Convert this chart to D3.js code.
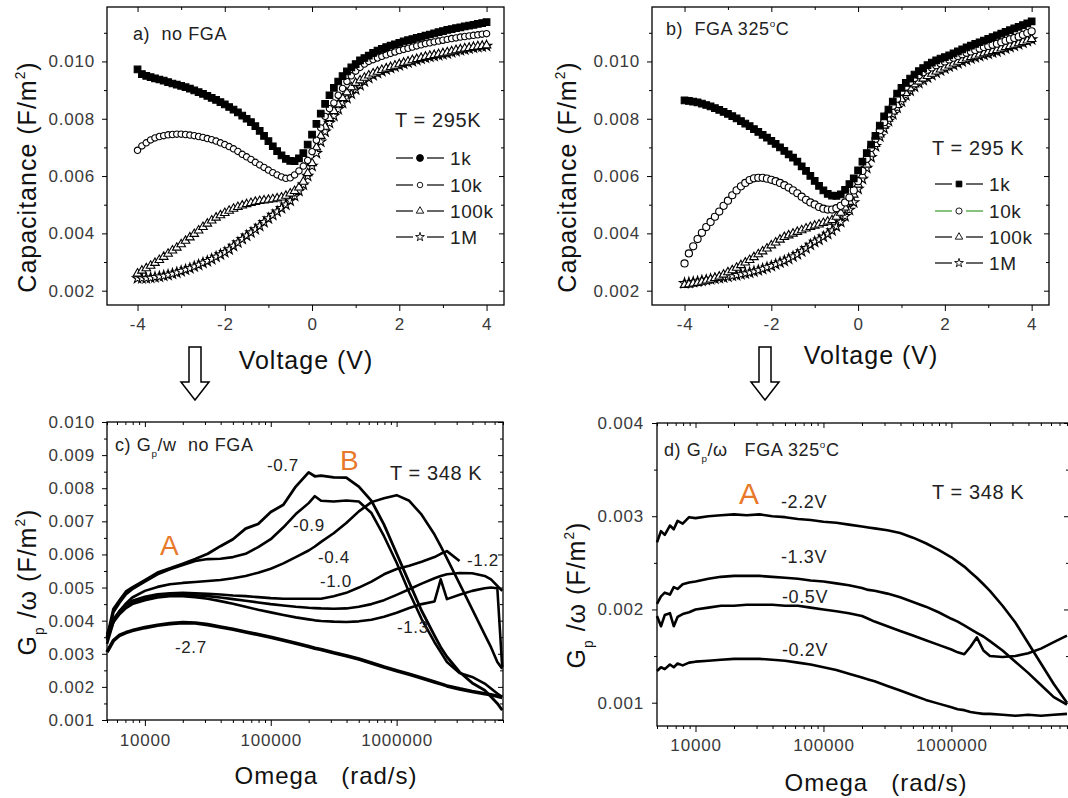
<!DOCTYPE html>
<html>
<head>
<meta charset="utf-8">
<script src="https://cdn.jsdelivr.net/npm/d3@7"></script>
<style>
body { margin: 0; background: #fff; }
svg { display: block; }
text { font-family: "Liberation Sans", Arial, sans-serif; }
.tick text { font-size: 17px; letter-spacing: 0.8px; fill: #3a3a3a; }
</style>
</head>
<body>
<svg id="fig" width="1068" height="798"></svg>
<script>
// ---- C-V data, capacitance in 1e-3 F/m^2 ----
var voltage = [-4.0,-3.9,-3.8,-3.7,-3.6,-3.5,-3.4,-3.3,-3.2,-3.1,
  -3.0,-2.9,-2.8,-2.7,-2.6,-2.5,-2.4,-2.3,-2.2,-2.1,
  -2.0,-1.9,-1.8,-1.7,-1.6,-1.5,-1.4,-1.3,-1.2,-1.1,
  -1.0,-0.9,-0.8,-0.7,-0.6,-0.5,-0.4,-0.3,-0.2,-0.1,
  0.0,0.1,0.2,0.3,0.4,0.5,0.6,0.7,0.8,0.9,
  1.0,1.1,1.2,1.3,1.4,1.5,1.6,1.7,1.8,1.9,
  2.0,2.1,2.2,2.3,2.4,2.5,2.6,2.7,2.8,2.9,
  3.0,3.1,3.2,3.3,3.4,3.5,3.6,3.7,3.8,3.9,
  4.0];

var capNoFga1k = [9.72,9.56,9.50,9.45,9.41,9.37,9.33,9.28,9.23,9.19,
  9.15,9.10,9.05,8.99,8.93,8.87,8.80,8.73,8.66,8.58,
  8.50,8.41,8.32,8.22,8.11,8.00,7.88,7.74,7.58,7.40,
  7.22,7.04,6.87,6.72,6.60,6.53,6.52,6.62,6.80,7.10,
  7.45,7.82,8.18,8.52,8.82,9.08,9.30,9.49,9.65,9.79,
  9.91,10.04,10.12,10.20,10.30,10.38,10.44,10.50,10.55,10.60,
  10.65,10.70,10.74,10.78,10.82,10.86,10.90,10.94,10.98,11.02,
  11.06,11.10,11.13,11.16,11.19,11.22,11.25,11.28,11.31,11.34,
  11.37];
var capNoFga10k = [6.90,7.05,7.16,7.26,7.33,7.38,7.41,7.44,7.45,7.46,
  7.46,7.45,7.43,7.41,7.38,7.35,7.31,7.27,7.22,7.16,
  7.10,7.03,6.95,6.86,6.76,6.67,6.58,6.48,6.39,6.30,
  6.21,6.12,6.04,5.97,5.92,5.94,6.04,6.18,6.35,6.55,
  6.85,7.25,7.68,8.08,8.35,8.55,8.82,9.06,9.30,9.50,
  9.66,9.79,9.91,10.00,10.06,10.12,10.18,10.23,10.28,10.33,
  10.38,10.42,10.46,10.50,10.54,10.58,10.62,10.65,10.68,10.71,
  10.74,10.77,10.80,10.82,10.85,10.87,10.89,10.91,10.93,10.95,
  10.97];
var capNoFga100k = [2.60,2.70,2.78,2.87,2.97,3.07,3.18,3.29,3.40,3.50,
  3.62,3.74,3.86,3.98,4.10,4.22,4.34,4.45,4.55,4.63,
  4.71,4.79,4.86,4.92,4.97,5.02,5.06,5.10,5.13,5.15,
  5.17,5.19,5.22,5.25,5.31,5.39,5.48,5.60,5.80,6.10,
  6.45,7.00,7.40,7.72,8.02,8.27,8.50,8.72,8.92,9.10,
  9.25,9.34,9.43,9.51,9.58,9.64,9.70,9.75,9.80,9.85,
  9.90,9.95,9.99,10.04,10.08,10.12,10.16,10.19,10.22,10.25,
  10.28,10.31,10.35,10.39,10.42,10.45,10.47,10.50,10.52,10.54,
  10.56];
var capNoFga1M = [2.43,2.43,2.43,2.45,2.47,2.49,2.52,2.55,2.59,2.63,
  2.68,2.73,2.78,2.84,2.90,2.97,3.03,3.10,3.18,3.26,
  3.34,3.44,3.56,3.68,3.80,3.92,4.03,4.14,4.26,4.39,
  4.52,4.64,4.76,4.88,5.00,5.14,5.30,5.48,5.70,6.00,
  6.35,6.80,7.20,7.55,7.85,8.10,8.33,8.55,8.72,8.87,
  9.02,9.17,9.30,9.42,9.52,9.60,9.66,9.72,9.77,9.82,
  9.87,9.92,9.96,10.01,10.05,10.09,10.13,10.16,10.19,10.22,
  10.25,10.28,10.32,10.36,10.39,10.42,10.45,10.48,10.50,10.52,
  10.54];

var capFga1k = [8.64,8.62,8.60,8.57,8.53,8.48,8.43,8.37,8.31,8.24,
  8.17,8.09,8.01,7.92,7.83,7.74,7.64,7.54,7.44,7.34,
  7.23,7.12,7.00,6.88,6.76,6.64,6.50,6.34,6.18,6.01,
  5.83,5.66,5.50,5.38,5.32,5.31,5.36,5.52,5.72,5.92,
  6.20,6.50,6.80,7.10,7.40,7.76,8.08,8.32,8.60,8.88,
  9.08,9.25,9.40,9.54,9.66,9.77,9.87,9.96,10.04,10.10,
  10.15,10.21,10.28,10.35,10.42,10.49,10.55,10.61,10.67,10.73,
  10.79,10.85,10.91,10.97,11.03,11.09,11.15,11.21,11.27,11.33,
  11.40];
var capFga10k = [2.95,3.30,3.55,3.80,4.02,4.22,4.40,4.58,4.76,4.96,
  5.14,5.33,5.50,5.64,5.76,5.86,5.92,5.94,5.94,5.91,
  5.87,5.82,5.76,5.68,5.60,5.50,5.40,5.28,5.17,5.08,
  5.01,4.92,4.86,4.83,4.83,4.88,4.96,5.08,5.25,5.50,
  5.82,6.18,6.60,6.98,7.30,7.60,7.88,8.18,8.45,8.70,
  8.95,9.12,9.28,9.42,9.52,9.62,9.71,9.79,9.87,9.94,
  10.00,10.07,10.13,10.19,10.25,10.30,10.35,10.40,10.45,10.50,
  10.54,10.58,10.62,10.67,10.72,10.77,10.82,10.87,10.93,10.99,
  11.05];
var capFga100k = [2.20,2.22,2.25,2.27,2.31,2.35,2.39,2.44,2.49,2.56,
  2.64,2.71,2.80,2.89,2.98,3.07,3.17,3.27,3.37,3.47,
  3.58,3.68,3.78,3.87,3.93,3.99,4.05,4.11,4.17,4.22,
  4.27,4.31,4.36,4.41,4.46,4.58,4.72,4.90,5.10,5.35,
  5.70,6.02,6.40,6.78,7.12,7.45,7.76,8.00,8.25,8.48,
  8.68,8.90,9.06,9.20,9.30,9.40,9.49,9.57,9.65,9.72,
  9.79,9.86,9.93,9.99,10.05,10.10,10.15,10.20,10.24,10.28,
  10.32,10.36,10.40,10.45,10.50,10.54,10.58,10.63,10.68,10.73,
  10.78];
var capFga1M = [2.26,2.28,2.30,2.32,2.35,2.37,2.40,2.42,2.44,2.46,
  2.49,2.52,2.54,2.57,2.60,2.63,2.67,2.71,2.76,2.81,
  2.86,2.92,2.98,3.04,3.11,3.19,3.27,3.37,3.48,3.60,
  3.70,3.78,3.88,3.98,4.10,4.24,4.40,4.60,4.82,5.08,
  5.55,5.90,6.28,6.66,7.04,7.38,7.66,7.92,8.16,8.38,
  8.60,8.82,8.98,9.12,9.25,9.35,9.44,9.53,9.61,9.68,
  9.75,9.82,9.88,9.94,10.00,10.05,10.10,10.15,10.19,10.23,
  10.27,10.31,10.35,10.40,10.45,10.50,10.55,10.60,10.65,10.71,
  10.77];

// ---- Gp/omega data, 1e-3 F/m^2, omega in rad/s ----
var omegaNoFga = [5000,5620,6310,7080,7940,10000,12600,15800,20000,25100,
  31600,39800,50100,63100,79400,100000,126000,158000,200000,224000,
  251000,316000,398000,501000,631000,794000,1000000,1260000,1580000,2000000,
  2240000,2510000,3160000,3980000,5010000,5620000,6310000,6900000];
var gpNoFgaM07 = [3.50,4.35,4.62,4.88,5.00,5.22,5.45,5.58,5.72,5.86,
  6.02,6.25,6.46,6.78,6.92,7.28,7.50,8.05,8.48,8.36,
  8.38,8.33,8.32,8.05,7.62,6.90,6.03,5.15,4.30,3.55,
  3.20,2.91,2.45,2.12,1.90,1.70,1.50,1.30];
var gpNoFgaM09 = [3.40,4.25,4.55,4.80,4.95,5.18,5.40,5.55,5.68,5.80,
  5.86,5.87,5.92,6.02,6.22,6.46,6.82,7.22,7.55,7.76,
  7.62,7.60,7.63,7.60,7.25,6.55,5.75,4.85,4.05,3.35,
  3.05,2.75,2.42,2.30,2.10,1.95,1.80,1.70];
var gpNoFgaM04 = [3.30,3.95,4.30,4.52,4.70,4.90,5.02,5.10,5.14,5.17,
  5.20,5.23,5.28,5.35,5.45,5.57,5.73,5.92,6.12,6.24,
  6.38,6.64,6.95,7.30,7.58,7.70,7.79,7.62,7.20,6.60,
  6.25,5.88,5.12,4.35,3.58,3.20,2.75,2.55];
var gpNoFgaM12 = [3.60,4.05,4.30,4.48,4.60,4.72,4.80,4.83,4.84,4.83,
  4.81,4.79,4.76,4.74,4.71,4.68,4.66,4.66,4.66,4.66,
  4.66,4.74,4.84,5.00,5.18,5.40,5.56,5.66,5.78,5.92,
  6.02,6.10,5.80,null,null,null,null,null];
var gpNoFgaM10 = [3.55,4.00,4.25,4.42,4.55,4.68,4.76,4.79,4.79,4.77,
  4.74,4.70,4.65,4.60,4.55,4.50,4.46,4.42,4.39,4.38,
  4.37,4.36,4.37,4.42,4.50,4.62,4.78,4.95,5.12,5.28,
  5.35,5.40,5.44,5.43,5.35,5.25,5.05,4.90];
var gpNoFgaM13 = [3.45,3.95,4.20,4.38,4.50,4.62,4.70,4.74,4.74,4.71,
  4.66,4.59,4.51,4.42,4.33,4.25,4.17,4.10,4.04,4.01,
  3.99,3.97,3.96,3.98,4.03,4.12,4.24,4.38,4.50,4.58,
  5.25,4.65,4.78,4.90,4.98,5.00,4.98,2.60];
var gpNoFgaM27 = [3.05,3.40,3.56,3.64,3.70,3.79,3.86,3.91,3.94,3.93,
  3.88,3.81,3.74,3.66,3.58,3.50,3.41,3.32,3.22,3.17,
  3.13,3.03,2.94,2.84,2.72,2.60,2.49,2.38,2.27,2.15,
  2.09,2.03,1.94,1.86,1.79,1.76,1.72,1.68];

var omegaFga = [5000,5370,5750,6310,6760,7240,7940,8910,10000,12600,
  15800,20000,25100,31600,39800,50100,63100,79400,100000,126000,
  158000,200000,224000,251000,316000,398000,501000,631000,794000,1000000,
  1120000,1260000,1410000,1580000,1780000,2000000,2510000,3160000,3980000,5010000,
  6310000,8000000];
var gpFgaM22 = [2.72,2.84,2.80,2.90,2.86,2.95,2.92,2.99,2.98,3.00,
  3.01,3.02,3.01,3.02,3.00,2.99,2.97,2.96,2.94,2.93,
  2.91,2.89,2.88,2.87,2.85,2.82,2.77,2.71,2.64,2.56,
  2.51,2.46,2.40,2.34,2.27,2.20,2.04,1.86,1.64,1.42,
  1.20,1.00];
var gpFgaM13 = [2.06,2.14,2.18,2.16,2.24,2.22,2.27,2.29,2.30,2.33,
  2.35,2.36,2.36,2.36,2.35,2.34,2.33,2.31,2.30,2.28,
  2.26,2.23,2.21,2.20,2.17,2.13,2.08,2.03,1.97,1.90,
  1.87,1.83,1.79,1.75,1.71,1.66,1.56,1.44,1.32,1.19,
  1.06,0.98];
var gpFgaM05 = [1.93,1.82,1.94,1.96,1.82,1.92,1.95,1.97,2.00,2.02,
  2.04,2.04,2.05,2.05,2.05,2.04,2.04,2.02,2.00,1.98,
  1.96,1.93,1.90,1.87,1.82,1.77,1.72,1.67,1.62,1.57,
  1.54,1.52,1.60,1.70,1.56,1.50,1.49,1.50,1.53,1.58,
  1.65,1.72];
var gpFgaM02 = [1.34,1.38,1.36,1.41,1.38,1.42,1.40,1.43,1.44,1.45,
  1.46,1.47,1.47,1.47,1.46,1.45,1.43,1.41,1.38,1.35,
  1.31,1.27,1.25,1.23,1.18,1.13,1.08,1.03,0.99,0.95,
  0.93,0.92,0.90,0.89,0.88,0.88,0.87,0.86,0.87,0.86,
  0.87,0.88];

// ---- ticks / labels ----
var voltTicks = [-4, -2, 0, 2, 4];
var voltMinor = [-3, -1, 1, 3];
var capTicks = [2, 4, 6, 8, 10];
var capMinor = [3, 5, 7, 9, 11];
var omegaTicks = [10000, 100000, 1000000];
var gpTicksNoFga = [1, 2, 3, 4, 5, 6, 7, 8, 9, 10];
var gpMinorNoFga = [1.5, 2.5, 3.5, 4.5, 5.5, 6.5, 7.5, 8.5, 9.5];
var gpTicksFga = [1, 2, 3, 4];
var gpMinorFga = [1.5, 2.5, 3.5];
var freqLabels = ['1k', '10k', '100k', '1M'];

var ORANGE = '#e8792a';
var svg = d3.select('#fig');
svg.append('rect').attr('width', 1068).attr('height', 798).attr('fill', '#fff');

function fmtMilli(d) { return (d / 1000).toFixed(3); }

function cleanAxis(sel) {
    sel.select('.domain').remove();
    sel.attr('font-family', null).attr('font-size', 17);
    sel.selectAll('line').attr('stroke', '#000').attr('stroke-width', 1);
}

function drawAxes(g, x, y, o) {
    var left = x.range()[0], right = x.range()[1];
    var bottom = y.range()[0], top = y.range()[1];

    g.append('g').attr('transform', 'translate(0,' + bottom + ')')
        .call(d3.axisBottom(x).tickValues(o.xMajor).tickSize(6).tickPadding(o.xPad).tickFormat(o.xFmt))
        .call(cleanAxis);
    g.append('g').attr('transform', 'translate(0,' + bottom + ')')
        .call(d3.axisBottom(x).tickValues(o.xMinor).tickSize(3).tickFormat(''))
        .call(cleanAxis);
    g.append('g').attr('transform', 'translate(0,' + top + ')')
        .call(d3.axisTop(x).tickValues(o.xMajor).tickSize(-5).tickFormat(''))
        .call(cleanAxis);
    g.append('g').attr('transform', 'translate(0,' + top + ')')
        .call(d3.axisTop(x).tickValues(o.xMinor).tickSize(-3).tickFormat(''))
        .call(cleanAxis);

    g.append('g').attr('transform', 'translate(' + left + ',0)')
        .call(d3.axisLeft(y).tickValues(o.yMajor).tickSize(5).tickPadding(o.yPad).tickFormat(fmtMilli))
        .call(cleanAxis);
    g.append('g').attr('transform', 'translate(' + left + ',0)')
        .call(d3.axisLeft(y).tickValues(o.yMinor).tickSize(3).tickFormat(''))
        .call(cleanAxis);
    g.append('g').attr('transform', 'translate(' + right + ',0)')
        .call(d3.axisRight(y).tickValues(o.yMajor).tickSize(-5).tickFormat(''))
        .call(cleanAxis);
    g.append('g').attr('transform', 'translate(' + right + ',0)')
        .call(d3.axisRight(y).tickValues(o.yMinor).tickSize(-3).tickFormat(''))
        .call(cleanAxis);

    g.append('rect')
        .attr('x', left).attr('y', top)
        .attr('width', right - left).attr('height', bottom - top)
        .attr('fill', 'none').attr('stroke', '#000').attr('stroke-width', 1.3);
}

// parts: array of strings or [text, 'sub'|'sup']
function richText(sel, parts, size) {
    var shift = 0;
    parts.forEach(function(p) {
        var txt = typeof p === 'string' ? p : p[0];
        var mode = typeof p === 'string' ? null : p[1];
        var target = mode === 'sub' ? size * 0.32 : (mode === 'sup' ? -size * 0.45 : 0);
        sel.append('tspan')
            .attr('dy', target - shift)
            .style('font-size', (mode ? size * 0.55 : size) + 'px')
            .text(txt);
        shift = target;
    });
}

function label(g, x, y, parts, size, opts) {
    opts = opts || {};
    var t = g.append('text')
        .attr('x', x).attr('y', y)
        .style('font-size', size + 'px')
        .style('fill', opts.fill || '#222')
        .style('letter-spacing', opts.ls || '0.6px')
        .attr('text-anchor', opts.anchor || 'start')
        .style('white-space', 'pre');
    richText(t, typeof parts === 'string' ? [parts] : parts, size);
    return t;
}

function yTitle(g, x, y, parts) {
    var t = g.append('text')
        .attr('transform', 'translate(' + x + ',' + y + ') rotate(-90)')
        .attr('text-anchor', 'middle')
        .style('font-size', '25px')
        .style('fill', '#111')
        .style('letter-spacing', '1px')
        .style('white-space', 'pre');
    richText(t, parts, 25);
}

function downArrow(g, cx) {
    var p = d3.path();
    p.moveTo(cx - 6, 347); p.lineTo(cx + 6, 347); p.lineTo(cx + 6, 382);
    p.lineTo(cx + 14, 382); p.lineTo(cx, 400); p.lineTo(cx - 14, 382);
    p.lineTo(cx - 6, 382); p.closePath();
    g.append('path').attr('d', p.toString()).attr('fill', '#fff')
        .attr('stroke', '#000').attr('stroke-width', 1.5);
}

var symFilledSquare = { type: d3.symbolSquare, size: 44, fill: '#000' };
var symOpenCircle = { type: d3.symbolCircle, size: 32, fill: '#fff' };
var symOpenTriangle = { type: d3.symbolTriangle, size: 32, fill: '#fff' };
var symOpenStar = { type: d3.symbolStar, size: 32, fill: '#fff' };

function capPanel(o) {
    var g = svg.append('g');
    var x = d3.scaleLinear().domain(o.xDom).range([o.left, o.right]);
    var y = d3.scaleLinear().domain([1.5, 11.9]).range([o.bottom, o.top]);

    // draw highest frequency first so 1k sits on top
    o.series.slice().reverse().forEach(function(s) {
        g.selectAll(null).data(voltage).enter().append('path')
            .attr('transform', function(d, i) { return 'translate(' + x(d) + ',' + y(s.values[i]) + ')'; })
            .attr('d', d3.symbol(s.sym.type, s.sym.size)())
            .attr('fill', s.sym.fill)
            .attr('stroke', '#000')
            .attr('stroke-width', 1.1);
    });

    drawAxes(g, x, y, {
        xMajor: voltTicks, xMinor: voltMinor, xPad: 7, xFmt: function(d) { return String(d); },
        yMajor: capTicks, yMinor: capMinor, yPad: 7
    });

    // legend
    o.series.forEach(function(s, i) {
        var cy = o.legend.rows[i];
        var lx = o.legend.x;
        var lineColor = s.legendLine || '#000';
        g.append('line').attr('x1', lx).attr('x2', lx + 17).attr('y1', cy).attr('y2', cy)
            .attr('stroke', lineColor).attr('stroke-width', 1.2);
        g.append('line').attr('x1', lx + 31).attr('x2', lx + 48).attr('y1', cy).attr('y2', cy)
            .attr('stroke', lineColor).attr('stroke-width', 1.2);
        var ls = s.legendSym || s.sym;
        g.append('path').attr('transform', 'translate(' + (lx + 24) + ',' + cy + ')')
            .attr('d', d3.symbol(ls.type, ls.size * 0.75)())
            .attr('fill', ls.fill).attr('stroke', '#000').attr('stroke-width', 0.9);
        label(g, lx + 54, cy + 6.5, freqLabels[i], 19);
    });
    return g;
}

// ---- panel a ----
var ga = capPanel({
    left: 107, right: 504, top: 7, bottom: 305, xDom: [-4.7, 4.4],
    series: [
        { values: capNoFga1k, sym: symFilledSquare, legendSym: { type: d3.symbolCircle, size: 50, fill: '#000' } },
        { values: capNoFga10k, sym: symOpenCircle },
        { values: capNoFga100k, sym: symOpenTriangle },
        { values: capNoFga1M, sym: symOpenStar }
    ],
    legend: { x: 396, rows: [158, 185, 211, 237] }
});
label(ga, 133, 40, 'a)  no FGA', 18);
label(ga, 395, 127, 'T = 295K', 20);
label(ga, 306, 369, 'Voltage (V)', 25, { anchor: 'middle', fill: '#111', ls: '1px' });
yTitle(ga, 36, 177, ['Capacitance (F/m', ['2', 'sup'], ')']);
downArrow(ga, 195);

// ---- panel b ----
var gb = capPanel({
    left: 652, right: 1049, top: 7, bottom: 305, xDom: [-4.75, 4.4],
    series: [
        { values: capFga1k, sym: symFilledSquare },
        { values: capFga10k, sym: { type: d3.symbolCircle, size: 40, fill: '#fff' }, legendLine: '#3a9a2a' },
        { values: capFga100k, sym: symOpenTriangle },
        { values: capFga1M, sym: symOpenStar }
    ],
    legend: { x: 935, rows: [184, 211, 237, 263] }
});
label(gb, 666, 35, ['b)  FGA 325', ['o', 'sup'], 'C'], 18);
label(gb, 932, 155, 'T = 295 K', 20);
label(gb, 871, 364, 'Voltage (V)', 25, { anchor: 'middle', fill: '#111', ls: '1px' });
yTitle(gb, 576, 177, ['Capacitance (F/m', ['2', 'sup'], ')']);
downArrow(gb, 765);

// ---- Gp/omega panels ----
function gpPanel(o) {
    var g = svg.append('g');
    var x = d3.scaleLog().domain(o.xDom).range([o.left, o.right]);
    var y = d3.scaleLinear().domain(o.yDom).range([o.bottom, o.top]);
    var line = d3.line()
        .defined(function(d) { return d[1] !== null; })
        .x(function(d) { return x(d[0]); })
        .y(function(d) { return y(d[1]); });

    o.series.forEach(function(s) {
        var pts = o.omega.map(function(w, i) { return [w, s.values[i]]; });
        g.append('path').datum(pts)
            .attr('d', line)
            .attr('fill', 'none')
            .attr('stroke', '#000')
            .attr('stroke-width', s.width || 2.6)
            .attr('stroke-linejoin', 'round');
    });

    var minor = x.ticks().filter(function(t) {
        return !o.xMajor.some(function(m) { return Math.abs(m - t) < 1e-6 * m; });
    });
    drawAxes(g, x, y, {
        xMajor: o.xMajor, xMinor: minor, xPad: o.xPad, xFmt: d3.format('d'),
        yMajor: o.yMajor, yMinor: o.yMinor, yPad: o.yPad
    });
    return g;
}

// ---- panel c ----
var gc = gpPanel({
    left: 107, right: 503, top: 422, bottom: 720,
    xDom: [5000, 7000000], yDom: [1, 10], omega: omegaNoFga,
    xMajor: omegaTicks, xPad: 8, yMajor: gpTicksNoFga, yMinor: gpMinorNoFga, yPad: 7,
    series: [
        { values: gpNoFgaM27, width: 3.6 },
        { values: gpNoFgaM13 },
        { values: gpNoFgaM10 },
        { values: gpNoFgaM12 },
        { values: gpNoFgaM04 },
        { values: gpNoFgaM09 },
        { values: gpNoFgaM07, width: 2.8 }
    ]
});
label(gc, 115, 451, ['c) G', ['p', 'sub'], '/w  no FGA'], 18);
label(gc, 267, 471, '-0.7', 17);
label(gc, 340, 470, 'B', 28, { fill: ORANGE, ls: '0px' });
label(gc, 390, 480, 'T = 348 K', 20);
label(gc, 293, 531, '-0.9', 17);
label(gc, 160, 555, 'A', 28, { fill: ORANGE, ls: '0px' });
label(gc, 318, 563, '-0.4', 17);
label(gc, 467, 566, '-1.2', 17);
label(gc, 320, 587, '-1.0', 17);
label(gc, 397, 633, '-1.3', 17);
label(gc, 175, 653, '-2.7', 17);
label(gc, 326, 784, 'Omega   (rad/s)', 24, { anchor: 'middle', fill: '#111', ls: '1px' });
yTitle(gc, 36, 582, ['G', ['p', 'sub'], ' /\u03c9 (F/m', ['2', 'sup'], ')']);

// ---- panel d ----
var gd = gpPanel({
    left: 657, right: 1069, top: 423, bottom: 726,
    xDom: [5000, 8300000], yDom: [0.75, 4.0], omega: omegaFga,
    xMajor: omegaTicks, xPad: 7, yMajor: gpTicksFga, yMinor: gpMinorFga, yPad: 8,
    series: [
        { values: gpFgaM22 },
        { values: gpFgaM13 },
        { values: gpFgaM05 },
        { values: gpFgaM02 }
    ]
});
label(gd, 664, 456, ['d) G', ['p', 'sub'], '/\u03c9   FGA 325', ['o', 'sup'], 'C'], 18);
label(gd, 739, 504, 'A', 30, { fill: ORANGE, ls: '0px' });
label(gd, 781, 508, '-2.2V', 18);
label(gd, 932, 499, 'T = 348 K', 20);
label(gd, 781, 563, '-1.3V', 18);
label(gd, 782, 603, '-0.5V', 18);
label(gd, 782, 656, '-0.2V', 18);
label(gd, 876, 791, 'Omega   (rad/s)', 24, { anchor: 'middle', fill: '#111', ls: '1px' });
yTitle(gd, 585, 595, ['G', ['p', 'sub'], ' /\u03c9 (F/m', ['2', 'sup'], ')']);
</script>
</body>
</html>
